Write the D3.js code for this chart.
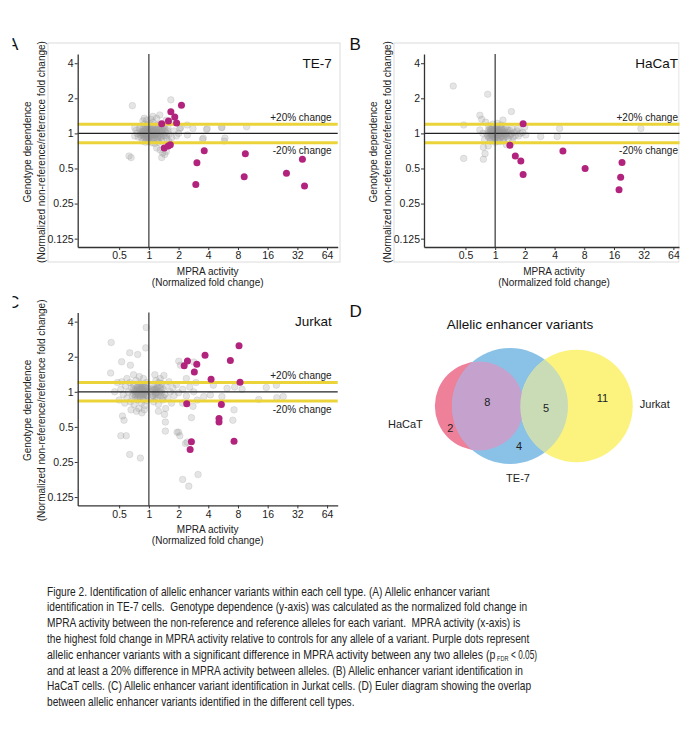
<!DOCTYPE html>
<html>
<head>
<meta charset="utf-8">
<script src="https://cdn.jsdelivr.net/npm/d3@7"></script>
<style>
  body { margin: 0; background: #fff; }
  svg { display: block; font-family: Arial, "Liberation Sans", Helvetica, sans-serif; }
</style>
</head>
<body>
<svg id="fig" width="692" height="729"></svg>
<script>
// tick values shared by the three scatter panels
const xTicks = [0.5, 1, 2, 4, 8, 16, 32, 64];
const yTicks = [0.125, 0.25, 0.5, 1, 2, 4];
const bands = [1.2, 1 / 1.2];
const bandLabels = ["+20% change", "-20% change"];

// [MPRA activity, genotype dependence]
const teSig = [[1.35,1.21],[1.58,1.28],[1.67,1.53],[1.83,1.38],[1.91,1.23],[2.14,1.74],[1.43,0.75],[1.57,0.78],[1.65,0.80],
  [3.64,0.71],[3.07,0.56],[2.99,0.365],[9.5,0.67],[9.25,0.425],[24.8,0.454],[36,0.60],[37.8,0.354]];
const teGrey = [[0.82,1.02],[0.85,0.97],[0.88,1.05],[0.9,0.94],[0.92,1.08],[0.94,1.0],[0.95,0.92],[0.96,1.12],[0.97,0.98],
  [0.98,1.04],[0.99,0.9],[1.0,1.0],[1.01,1.06],[1.02,0.95],[1.03,1.1],[1.04,0.99],[1.05,0.88],[1.06,1.03],[1.08,0.96],
  [1.1,1.14],[1.12,1.0],[1.14,0.93],[1.16,1.07],[1.18,0.98],[1.2,1.02],[1.22,0.9],[1.25,1.1],[1.28,0.97],[1.3,1.04],
  [1.33,0.92],[1.36,1.0],[1.4,1.08],[1.44,0.95],[1.48,1.02],[1.52,0.9],[1.56,1.12],[1.6,0.98],[0.8,1.1],[0.78,0.93],
  [0.84,1.15],[0.86,0.86],[0.9,1.2],[0.93,0.84],[0.97,1.18],[1.0,0.85],[1.03,1.22],[1.07,0.83],[1.1,1.25],[1.15,0.82],
  [1.2,1.18],[1.25,0.84],[1.3,1.2],[1.35,0.86],[1.42,1.16],[0.88,0.99],[0.91,1.03],[0.94,0.96],[0.97,1.07],[1.0,0.95],
  [1.04,1.05],[1.07,0.97],[1.11,1.04],[1.15,1.0],[1.19,1.09],[1.23,0.95],[0.76,1.0],[0.74,1.06],[0.87,1.28],[0.95,1.3],
  [1.05,1.32],[0.9,1.0],[0.95,1.02],[1.0,1.04],[1.05,0.97],[1.1,1.02],[0.86,1.04],[0.92,0.98],[0.98,1.01],
  [0.86,1.01],[0.89,0.96],[0.92,1.05],[0.95,0.99],[0.98,0.93],[1.01,1.02],[1.04,1.08],[1.07,1.01],[1.1,0.95],
  [1.13,1.06],[1.16,0.97],[1.19,1.03],[1.22,1.0],[1.26,1.06],[1.29,0.93],[1.32,1.12],[1.36,1.04],[1.4,0.97],
  [1.45,1.1],[1.5,0.96],[0.84,0.92],[0.87,1.09],[0.93,1.13],[0.99,1.15],[1.06,0.9],[1.12,0.89],[1.18,1.13],
  [1.24,0.88],[1.34,1.07],[1.55,1.05],[0.96,0.88],[1.02,1.13],[0.82,0.97],[0.91,0.91],[1.09,1.09],
  [1.2,0.75],[1.3,0.72],[1.38,0.68],[1.45,0.66],[1.35,0.62],[1.5,0.7],[1.6,0.85],[1.7,0.92],[1.8,1.05],[1.9,0.95],
  [2.0,1.0],[2.1,1.12],[2.06,1.1],[2.45,1.18],[2.46,0.97],[2.8,1.1],[3.56,0.91],[3.5,0.89],[3.84,1.08],[3.9,1.1],
  [5.45,1.13],[5.5,1.12],[5.9,0.91],[5.8,0.86],[9.8,1.14],[1.29,1.44],[1.67,1.94],[0.68,1.73],[0.63,0.64],[0.66,0.62],
  [1.2,1.35],[1.5,1.3],[1.1,1.4],[0.9,1.35],[1.7,1.25],[0.72,0.95],[0.72,1.12]];

const hcSig = [[1.92,1.21],[1.41,0.79],[1.60,0.64],[1.82,0.58],[1.92,0.445],[4.86,0.705],[8.16,0.50],[19.3,0.564],
  [18.7,0.42],[18,0.329]];
const hcGrey = [[0.82,1.0],[0.84,0.95],[0.85,1.06],[0.87,0.98],[0.88,1.1],[0.89,0.92],[0.9,1.02],[0.91,0.96],[0.92,1.08],
  [0.93,0.9],[0.94,1.0],[0.95,1.04],[0.96,0.94],[0.97,1.12],[0.98,0.98],[0.99,1.06],[1.0,0.92],[1.01,1.0],[1.02,1.09],
  [1.03,0.95],[1.04,1.03],[1.05,0.88],[1.06,1.0],[1.07,1.14],[1.08,0.97],[1.1,1.05],[1.12,0.91],[1.14,1.01],[1.16,1.1],
  [1.18,0.95],[1.2,1.03],[1.22,0.9],[1.24,1.08],[1.26,0.98],[1.28,1.12],[1.3,0.94],[1.33,1.02],[1.36,0.9],[1.4,1.06],
  [1.44,0.97],[1.48,1.1],[1.52,0.93],[1.56,1.02],[1.6,0.96],[1.66,1.05],[1.72,0.95],[1.8,1.0],[0.86,1.16],[0.9,0.86],
  [0.95,1.2],[1.0,0.84],[1.05,1.22],[1.1,0.85],[1.15,1.18],[1.2,0.86],[0.92,1.0],[0.96,1.02],[1.0,0.98],[1.04,1.01],
  [1.08,1.02],[1.12,0.99],[1.16,1.0],[0.98,1.03],[1.02,0.97],[1.06,1.04],[1.1,0.98],[0.94,0.97],[1.0,1.02],[1.06,0.96],
  [0.88,1.03],[0.91,0.99],[0.94,1.05],[0.97,0.97],[1.0,1.07],[1.03,0.99],[1.06,0.93],[1.09,1.06],[1.12,1.03],
  [1.15,0.94],[1.18,1.07],[1.21,0.99],[1.25,1.03],[1.29,0.99],[1.34,1.07],[1.38,0.96],[1.46,1.0],[0.93,1.12],
  [0.99,0.89],[1.04,1.15],[1.13,1.11],[1.23,0.93],[0.86,0.92],[0.9,1.08],
  [0.376,2.55],[0.84,2.17],[1.46,1.54],[0.48,1.18],[0.48,0.61],[0.76,0.6],[0.79,0.67],[0.76,0.76],[1.99,1.13],
  [2.04,0.97],[2.89,0.94],[4.26,0.94],[4.5,1.10],[30,1.10],[0.7,1.43],[0.73,1.32],[0.7,1.07],[0.8,1.25],[0.78,0.88],
  [0.85,0.78],[1.3,0.8],[1.5,0.85],[1.7,1.1],[1.9,1.02],[1.2,1.3],[0.75,1.0]];

const jkSig = [[2.28,1.67],[2.46,1.84],[3.06,1.72],[2.89,1.48],[3.71,2.06],[4.27,1.28],[6.7,1.86],[8.2,2.48],[8.39,1.21],
  [2.42,0.79],[5.43,0.78],[5.14,0.59],[5.14,0.55],[2.70,0.373],[2.62,0.32],[7.3,0.377]];
const jkGrey = [[0.52,1.05],[0.55,0.95],[0.58,1.12],[0.6,0.88],[0.62,1.0],[0.64,1.2],[0.65,0.82],[0.67,1.08],[0.68,0.93],
  [0.7,1.15],[0.71,0.78],[0.72,1.02],[0.73,0.9],[0.74,1.25],[0.75,0.97],[0.76,1.1],[0.77,0.85],[0.78,1.04],[0.79,0.72],
  [0.8,0.99],[0.81,1.18],[0.82,0.9],[0.83,1.06],[0.84,0.8],[0.85,1.0],[0.86,1.13],[0.87,0.94],[0.88,1.3],[0.89,0.87],
  [0.9,1.03],[0.91,0.76],[0.92,1.09],[0.93,0.96],[0.94,1.2],[0.95,0.84],[0.96,1.01],[0.97,0.92],[0.98,1.07],[0.8,1.35],
  [0.7,1.4],[0.66,0.7],[0.75,0.68],[0.85,0.66],[0.6,1.3],[0.57,0.8],[0.9,0.7],[0.78,0.95],[0.82,1.02],[0.74,1.05],
  [0.86,0.97],[0.7,0.95],[0.8,1.1],[0.88,1.0],[0.76,0.88],[0.79,1.0],[0.84,0.94],[0.72,1.0],[0.9,1.1],
  [0.77,0.98],[0.8,1.05],[0.83,0.97],[0.86,1.04],[0.89,0.95],[0.92,1.0],[0.95,1.06],[0.75,1.02],[0.78,1.12],
  [0.81,0.9],[0.84,1.08],[0.87,0.86],[0.9,0.98],[0.93,1.12],[0.73,0.94],[0.7,1.06],[0.95,0.93],[0.83,1.15],
  [0.415,2.65],[0.94,3.56],[0.64,2.16],[0.77,2.09],[0.53,1.81],[0.65,1.69],[0.93,2.38],[0.41,1.45],[0.53,1.22],
  [0.54,0.62],[0.56,0.57],[0.52,0.42],[0.59,0.42],[0.64,0.29],[0.82,0.27],[0.45,1.0],[0.48,1.2],[0.5,0.85],
  [1.05,1.0],[1.08,0.9],[1.1,1.15],[1.12,0.82],[1.14,1.05],[1.16,0.95],[1.18,1.25],[1.2,0.88],[1.22,1.1],[1.25,0.78],
  [1.28,1.0],[1.3,1.3],[1.32,0.92],[1.35,1.18],[1.38,0.85],[1.4,1.05],[1.42,1.38],[1.45,0.95],[1.48,0.72],[1.5,1.12],
  [1.55,0.88],[1.6,1.22],[1.65,1.0],[1.7,0.8],[1.75,1.08],[1.8,0.93],[1.9,1.15],[2.0,0.98],[1.15,1.4],[1.25,0.68],
  [1.12,1.02],[1.2,0.97],[1.3,1.08],[1.4,0.9],[1.1,0.93],[1.26,1.2],[1.18,1.05],[1.35,0.98],[1.44,0.64],[1.47,0.55],
  [1.12,1.08],[1.16,0.99],[1.2,1.06],[1.24,0.94],[1.28,1.12],[1.15,0.9],[1.1,1.04],[1.33,1.03],
  [2.2,1.05],[2.4,0.92],[2.6,1.1],[2.85,1.0],[3.1,0.85],[3.6,0.91],[4.2,0.94],[4.5,1.14],[5.5,0.91],[6.2,1.07],
  [7.3,0.7],[7.1,0.57],[7.4,1.1],[8.8,1.05],[13,0.86],[15.5,1.09],[19.6,1.14],[19.8,0.89],[23,0.91],[2.85,1.8],
  [2.01,1.83],[2.09,1.69],[2.0,0.45],[1.93,0.45],[2.06,0.42],[1.47,0.46],[2.44,0.37],[2.35,0.36],[2.2,0.177],
  [2.54,0.155],[3.15,0.195],[2.4,1.3],[3.0,1.2],[2.2,0.8],[2.8,0.75],[2.7,0.6]];

// Euler diagram: counts per region
const vennSets = ["HaCaT", "TE-7", "Jurkat"];
const vennRegions = [
  {sets: ["HaCaT"], n: 2}, {sets: ["TE-7"], n: 4}, {sets: ["Jurkat"], n: 11},
  {sets: ["HaCaT", "TE-7"], n: 8}, {sets: ["TE-7", "Jurkat"], n: 5}
];

// caption, one entry per printed line: [text, x start, x end, font size, baseline shift]
const captionParts = [
  [["Figure 2. Identification of allelic enhancer variants within each cell type. (A) Allelic enhancer variant", 47, 490]],
  [["identification in TE-7 cells.  Genotype dependence (y-axis) was calculated as the normalized fold change in", 47, 527.7]],
  [["MPRA activity between the non-reference and reference alleles for each variant.  MPRA activity (x-axis) is", 47, 520.7]],
  [["the highest fold change in MPRA activity relative to controls for any allele of a variant. Purple dots represent", 47, 530]],
  [["allelic enhancer variants with a significant difference in MPRA activity between any two alleles (p", 47, 496],
   ["FDR", 497, 508.5, 8, 2.5],
   ["< 0.05)", 511, 537]],
  [["and at least a 20% difference in MPRA activity between alleles. (B) Allelic enhancer variant identification in", 47, 523]],
  [["HaCaT cells. (C) Allelic enhancer variant identification in Jurkat cells. (D) Euler diagram showing the overlap", 47, 531.7]],
  [["between allelic enhancer variants identified in the different cell types.", 47, 355]]
];

const svg = d3.select("#fig");
const defs = svg.append("defs");

const plot = {left: 77.7, top: 54, width: 260, height: 193};
const panels = [
  {title: "TE-7", grey: teGrey, sig: teSig, dx: 0, dy: 0, frame: [48, 43, 292, 219], clip: null},
  {title: "HaCaT", grey: hcGrey, sig: hcSig, dx: 346.3, dy: 0, frame: [47.7, 43, 285, 219], clip: 333.2},
  {title: "Jurkat", grey: jkGrey, sig: jkSig, dx: 0, dy: 258.4, frame: null, clip: null}
];

const x = d3.scaleLog().base(2).domain([0.19, 82]).range([plot.left, plot.left + plot.width]);
const y = d3.scaleLog().base(2).domain([0.106, 4.8]).range([plot.top + plot.height, plot.top]);

panels.forEach((p, i) => {
  let g = svg.append("g").attr("transform", `translate(${p.dx},${p.dy})`);
  if (p.clip) {
    defs.append("clipPath").attr("id", "clip" + i)
      .append("rect").attr("x", -50).attr("y", 0).attr("width", p.clip + 50).attr("height", 300);
    g = g.append("g").attr("clip-path", `url(#clip${i})`);
  }
  if (p.frame) {
    g.append("rect").attr("x", p.frame[0]).attr("y", p.frame[1])
      .attr("width", p.frame[2]).attr("height", p.frame[3])
      .attr("fill", "none").attr("stroke", "#dcdcdc").attr("stroke-width", 1);
  }

  g.selectAll("circle.grey").data(p.grey).enter().append("circle")
    .attr("class", "grey")
    .attr("cx", d => x(d[0])).attr("cy", d => y(d[1])).attr("r", 3.3)
    .attr("fill", "#9a9a9a").attr("fill-opacity", 0.26)
    .attr("stroke", "#9a9a9a").attr("stroke-opacity", 0.28).attr("stroke-width", 0.8);

  // +/-20% bands
  g.selectAll("line.band").data(bands).enter().append("line")
    .attr("x1", plot.left).attr("x2", plot.left + plot.width)
    .attr("y1", d => y(d)).attr("y2", d => y(d))
    .attr("stroke", "#ead43a").attr("stroke-width", 3);

  g.append("line").attr("x1", plot.left).attr("x2", plot.left + plot.width)
    .attr("y1", y(1)).attr("y2", y(1)).attr("stroke", "#222").attr("stroke-width", 1.3);
  g.append("line").attr("x1", x(1)).attr("x2", x(1))
    .attr("y1", plot.top).attr("y2", plot.top + plot.height).attr("stroke", "#444").attr("stroke-width", 1.3);

  g.selectAll("circle.sig").data(p.sig).enter().append("circle")
    .attr("class", "sig")
    .attr("cx", d => x(d[0])).attr("cy", d => y(d[1])).attr("r", 3.5)
    .attr("fill", "#b2237d");

  const xAxis = g.append("g").attr("transform", `translate(0,${plot.top + plot.height})`)
    .call(d3.axisBottom(x).tickValues(xTicks).tickFormat(d => d).tickSize(3).tickSizeOuter(0).tickPadding(2));
  const yAxis = g.append("g").attr("transform", `translate(${plot.left},0)`)
    .call(d3.axisLeft(y).tickValues(yTicks).tickFormat(d => d).tickSize(3).tickSizeOuter(0).tickPadding(1));
  [xAxis, yAxis].forEach(a => {
    a.select(".domain").attr("stroke", "#333").attr("stroke-width", 1.3);
    a.selectAll(".tick line").attr("stroke", "#333");
    a.selectAll(".tick text").attr("font-size", 10.5).attr("fill", "#222").attr("font-family", null);
  });

  const right = plot.left + plot.width - 6;
  g.append("text").attr("x", right).attr("y", plot.top + 14).attr("text-anchor", "end")
    .attr("font-size", 13.5).attr("fill", "#111").text(p.title);
  g.append("text").attr("x", right).attr("y", y(bands[0]) - 3.5).attr("text-anchor", "end")
    .attr("font-size", 10).attr("fill", "#222").text(bandLabels[0]);
  g.append("text").attr("x", right).attr("y", y(bands[1]) + 11.5).attr("text-anchor", "end")
    .attr("font-size", 10).attr("fill", "#222").text(bandLabels[1]);

  const cx = plot.left + plot.width / 2;
  g.append("text").attr("x", cx).attr("y", 274.5).attr("text-anchor", "middle")
    .attr("font-size", 10).attr("fill", "#222").text("MPRA activity");
  g.append("text").attr("x", cx).attr("y", 286).attr("text-anchor", "middle")
    .attr("font-size", 10).attr("fill", "#222").text("(Normalized fold change)");
  const cy = 152;
  g.append("text").attr("transform", `translate(31,${cy}) rotate(-90)`).attr("text-anchor", "middle")
    .attr("font-size", 10).attr("fill", "#222").text("Genotype dependence");
  g.append("text").attr("transform", `translate(44.5,${cy}) rotate(-90)`).attr("text-anchor", "middle")
    .attr("font-size", 10).attr("fill", "#222").text("(Normalized non-reference/reference fold change)");
});

// panel letters
defs.append("clipPath").attr("id", "letterClip")
  .append("rect").attr("x", 12.5).attr("y", 0).attr("width", 40).attr("height", 729);
const letters = svg.append("g");
letters.append("text").attr("x", 7).attr("y", 50).attr("clip-path", "url(#letterClip)")
  .attr("font-size", 17).attr("fill", "#111").text("A");
letters.append("text").attr("x", 7).attr("y", 308).attr("clip-path", "url(#letterClip)")
  .attr("font-size", 17).attr("fill", "#111").text("C");
letters.append("text").attr("x", 349.5).attr("y", 50).attr("font-size", 17).attr("fill", "#111").text("B");
letters.append("text").attr("x", 349.5).attr("y", 317).attr("font-size", 17).attr("fill", "#111").text("D");

// ---- Euler diagram ----
const totals = vennSets.map(s => d3.sum(vennRegions.filter(r => r.sets.includes(s)), r => r.n));
const rScale = d3.scaleSqrt().domain([0, d3.max(totals)]).range([0, 58]);
const unitArea = Math.PI * rScale(1) * rScale(1);

function lens(r1, r2, d) {
  if (d >= r1 + r2) return 0;
  if (d <= Math.abs(r1 - r2)) return Math.PI * Math.min(r1, r2) ** 2;
  const a1 = Math.acos((d * d + r1 * r1 - r2 * r2) / (2 * d * r1));
  const a2 = Math.acos((d * d + r2 * r2 - r1 * r1) / (2 * d * r2));
  return r1 * r1 * a1 + r2 * r2 * a2 -
    0.5 * Math.sqrt((-d + r1 + r2) * (d + r1 - r2) * (d - r1 + r2) * (d + r1 + r2));
}
function distFor(r1, r2, area) {
  let lo = Math.abs(r1 - r2), hi = r1 + r2;
  for (let k = 0; k < 60; k++) {
    const m = (lo + hi) / 2;
    if (lens(r1, r2, m) > area) lo = m; else hi = m;
  }
  return (lo + hi) / 2;
}
const rH = rScale(totals[0]), rT = rScale(totals[1]), rJ = rScale(totals[2]);
const nHT = vennRegions.find(r => r.sets.length === 2 && r.sets.includes("HaCaT")).n;
const nTJ = vennRegions.find(r => r.sets.length === 2 && r.sets.includes("Jurkat")).n;
const cT = {x: 510, y: 406};
const cH = {x: cT.x - distFor(rH, rT, nHT * unitArea), y: cT.y};
const cJ = {x: cT.x + distFor(rT, rJ, nTJ * unitArea), y: cT.y};

const eu = svg.append("g");
defs.append("clipPath").attr("id", "clipTE").append("circle").attr("cx", cT.x).attr("cy", cT.y).attr("r", rT);
eu.append("circle").attr("cx", cH.x).attr("cy", cH.y).attr("r", rH).attr("fill", "#ef809a");
eu.append("circle").attr("cx", cT.x).attr("cy", cT.y).attr("r", rT).attr("fill", "#8ac2e7");
eu.append("circle").attr("cx", cJ.x).attr("cy", cJ.y).attr("r", rJ).attr("fill", "#fbf37e");
eu.append("circle").attr("cx", cH.x).attr("cy", cH.y).attr("r", rH).attr("fill", "#c4a2cd").attr("clip-path", "url(#clipTE)");
eu.append("circle").attr("cx", cJ.x).attr("cy", cJ.y).attr("r", rJ).attr("fill", "#cadcb6").attr("clip-path", "url(#clipTE)");

const regionPos = [
  [cH.x - 29, cH.y + 22],
  [cT.x + 9, cT.y + 40],
  [cJ.x + 26, cJ.y - 8],
  [cH.x + 8, cH.y - 4],
  [((cT.x + rT) + (cJ.x - rJ)) / 2 + 2, cT.y + 2]
];
eu.selectAll("text.n").data(vennRegions).enter().append("text")
  .attr("x", (d, i) => regionPos[i][0]).attr("y", (d, i) => regionPos[i][1] + 4)
  .attr("text-anchor", "middle").attr("font-size", 11).attr("fill", "#222").text(d => d.n);
eu.append("text").attr("x", cH.x - rH - 12).attr("y", cH.y + 22).attr("text-anchor", "end")
  .attr("font-size", 11).attr("fill", "#222").text(vennSets[0]);
eu.append("text").attr("x", cT.x + 8).attr("y", cT.y + rT + 18).attr("text-anchor", "middle")
  .attr("font-size", 11).attr("fill", "#222").text(vennSets[1]);
eu.append("text").attr("x", cJ.x + rJ + 7).attr("y", cJ.y + 2).attr("text-anchor", "start")
  .attr("font-size", 11).attr("fill", "#222").text(vennSets[2]);
eu.append("text").attr("x", 520).attr("y", 328.5).attr("text-anchor", "middle")
  .attr("font-size", 13.5).attr("fill", "#111").text("Allelic enhancer variants");

// ---- caption: narrow type, each piece squeezed to the width it has in the figure ----
const cap = svg.append("g");
captionParts.forEach((parts, i) => {
  const base = 595.5 + i * 15.8;
  parts.forEach(([s, x0, x1, fs, shift]) => {
    const t = cap.append("text").attr("x", 0).attr("y", 0)
      .attr("font-size", fs || 12.5).attr("fill", "#222").style("white-space", "pre")
      .text(s);
    const natural = t.node().getComputedTextLength();
    const sx = (x1 - x0) / natural;
    t.attr("transform", `translate(${x0},${base + (shift || 0)}) scale(${sx},1)`);
  });
});
</script>
</body>
</html>
